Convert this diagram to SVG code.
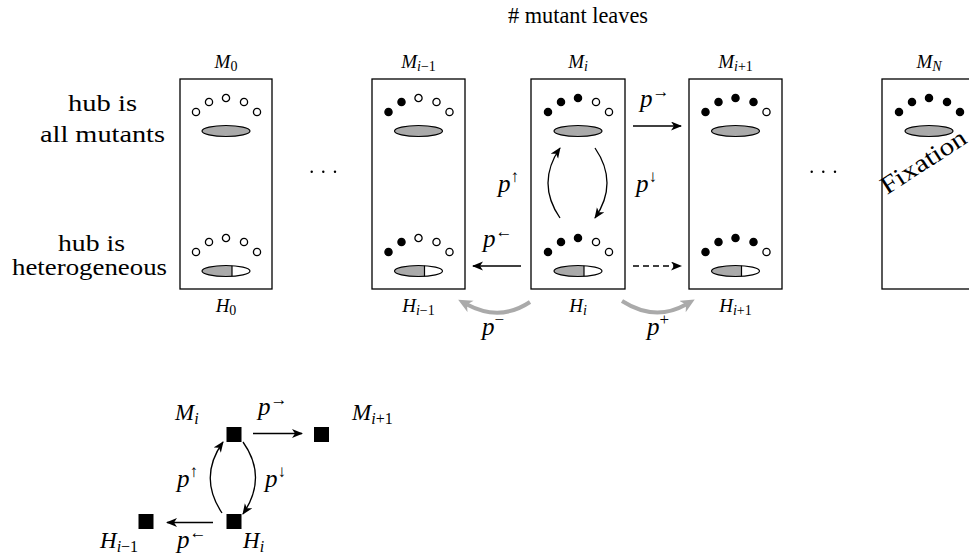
<svg xmlns="http://www.w3.org/2000/svg" xmlns:xlink="http://www.w3.org/1999/xlink" width="969" height="555" viewBox="0 0 969 555" font-family="Liberation Serif, DejaVu Serif, serif">
<style>
.box{fill:#fff;stroke:#000;stroke-width:1.3}
.o{fill:#fff;stroke:#000;stroke-width:1.3}
.f{fill:#000;stroke:#000;stroke-width:1.3}
.hub{fill:#aaa;stroke:#000;stroke-width:1.2}
.it{font-style:italic}
.lbl{font-size:19px}
.sub{font-size:14px}
.big{font-size:23px}
.p{font-size:25px}
.sup{font-size:17px;font-style:normal}
.arr{fill:none;stroke:#000;stroke-width:1.3}
.gray{fill:none;stroke:#aaa;stroke-width:4}
.sq{fill:#000}
</style>
<defs>
<marker id="ah" markerUnits="userSpaceOnUse" markerWidth="12" markerHeight="10" refX="10" refY="4.5" orient="auto">
<path d="M0,0 L11,4.5 L0,9 L3,4.5 Z" fill="#000"/>
</marker>
<marker id="gh" markerUnits="userSpaceOnUse" markerWidth="16" markerHeight="14" refX="4" refY="6.5" orient="auto">
<path d="M0,0 L14,6.5 L0,13 L4,6.5 Z" fill="#aaa"/>
</marker>
<g id="hubM"><ellipse rx="24" ry="5.5" class="hub"/></g>
<g id="hubH">
<ellipse rx="24" ry="5.5" fill="#fff"/>
<path d="M6,-5.33 A24,5.5 0 1 0 6,5.33 Z" fill="#aaa"/>
<line x1="6" y1="-5.33" x2="6" y2="5.33" stroke="#000" stroke-width="1.2"/>
<ellipse rx="24" ry="5.5" fill="none" stroke="#000" stroke-width="1.2"/>
</g>
<g id="L0"><circle cx="-30" cy="14" r="3.6" class="o"/><circle cx="-17" cy="4" r="3.6" class="o"/><circle cx="0" cy="0" r="3.6" class="o"/><circle cx="18" cy="4" r="3.6" class="o"/><circle cx="31" cy="14" r="3.6" class="o"/></g>
<g id="L2"><circle cx="-30" cy="14" r="3.6" class="f"/><circle cx="-17" cy="4" r="3.6" class="f"/><circle cx="0" cy="0" r="3.6" class="o"/><circle cx="18" cy="4" r="3.6" class="o"/><circle cx="31" cy="14" r="3.6" class="o"/></g>
<g id="L3"><circle cx="-30" cy="14" r="3.6" class="f"/><circle cx="-17" cy="4" r="3.6" class="f"/><circle cx="0" cy="0" r="3.6" class="f"/><circle cx="18" cy="4" r="3.6" class="o"/><circle cx="31" cy="14" r="3.6" class="o"/></g>
<g id="L4"><circle cx="-30" cy="14" r="3.6" class="f"/><circle cx="-17" cy="4" r="3.6" class="f"/><circle cx="0" cy="0" r="3.6" class="f"/><circle cx="18" cy="4" r="3.6" class="f"/><circle cx="31" cy="14" r="3.6" class="o"/></g>
<g id="L5"><circle cx="-30" cy="14" r="3.6" class="f"/><circle cx="-17" cy="4" r="3.6" class="f"/><circle cx="0" cy="0" r="3.6" class="f"/><circle cx="18" cy="4" r="3.6" class="f"/><circle cx="31" cy="14" r="3.6" class="f"/></g>
</defs>

<rect width="969" height="555" fill="#fff"/>

<text x="508" y="23" font-size="23" textLength="140" lengthAdjust="spacingAndGlyphs"># mutant leaves</text>

<g id="row-labels" font-size="23">
<text x="102.5" y="111" text-anchor="middle" textLength="69" lengthAdjust="spacingAndGlyphs">hub is</text>
<text x="102.5" y="142" text-anchor="middle" textLength="125" lengthAdjust="spacingAndGlyphs">all mutants</text>
<text x="91.5" y="251" text-anchor="middle" textLength="67" lengthAdjust="spacingAndGlyphs">hub is</text>
<text x="89.5" y="275" text-anchor="middle" textLength="155" lengthAdjust="spacingAndGlyphs">heterogeneous</text>
</g>

<g id="state-0">
<rect x="180" y="79" width="92" height="210" class="box"/>
<use xlink:href="#L0" x="226" y="98"/><use xlink:href="#hubM" x="226" y="131"/>
<use xlink:href="#L0" x="226" y="238"/><use xlink:href="#hubH" x="226" y="271"/>
<text class="lbl" x="226" y="68" text-anchor="middle"><tspan class="it">M</tspan><tspan class="sub" dy="3">0</tspan></text>
<text class="lbl" x="226" y="312" text-anchor="middle"><tspan class="it">H</tspan><tspan class="sub" dy="3">0</tspan></text>
</g>

<g id="dots-left" fill="#000"><circle cx="311.7" cy="171.7" r="1.2"/><circle cx="323.3" cy="171.7" r="1.2"/><circle cx="335" cy="171.7" r="1.2"/></g>

<g id="state-i-1">
<rect x="372" y="79" width="93" height="210" class="box"/>
<use xlink:href="#L2" x="418.5" y="98"/><use xlink:href="#hubM" x="418.5" y="131"/>
<use xlink:href="#L2" x="418.5" y="238"/><use xlink:href="#hubH" x="418.5" y="271"/>
<text class="lbl" x="418.5" y="68" text-anchor="middle"><tspan class="it">M</tspan><tspan class="sub" dy="3"><tspan class="it">i</tspan>−1</tspan></text>
<text class="lbl" x="418.5" y="312" text-anchor="middle"><tspan class="it">H</tspan><tspan class="sub" dy="3"><tspan class="it">i</tspan>−1</tspan></text>
</g>

<g id="state-i">
<rect x="531" y="79" width="94" height="210" class="box"/>
<use xlink:href="#L3" x="578" y="98"/><use xlink:href="#hubM" x="578" y="131"/>
<use xlink:href="#L3" x="578" y="238"/><use xlink:href="#hubH" x="578" y="271"/>
<text class="lbl" x="578" y="68" text-anchor="middle"><tspan class="it">M</tspan><tspan class="sub it" dy="3">i</tspan></text>
<text class="lbl" x="578" y="312" text-anchor="middle"><tspan class="it">H</tspan><tspan class="sub it" dy="3">i</tspan></text>
</g>

<g id="state-i+1">
<rect x="689" y="79" width="93" height="210" class="box"/>
<use xlink:href="#L4" x="735.5" y="98"/><use xlink:href="#hubM" x="735.5" y="131"/>
<use xlink:href="#L4" x="735.5" y="238"/><use xlink:href="#hubH" x="735.5" y="271"/>
<text class="lbl" x="735.5" y="68" text-anchor="middle"><tspan class="it">M</tspan><tspan class="sub" dy="3"><tspan class="it">i</tspan>+1</tspan></text>
<text class="lbl" x="735.5" y="312" text-anchor="middle"><tspan class="it">H</tspan><tspan class="sub" dy="3"><tspan class="it">i</tspan>+1</tspan></text>
</g>

<g id="dots-right" fill="#000"><circle cx="811.7" cy="171.7" r="1.2"/><circle cx="823.3" cy="171.7" r="1.2"/><circle cx="835" cy="171.7" r="1.2"/></g>

<g id="state-N">
<rect x="882" y="79" width="93" height="210" class="box"/>
<use xlink:href="#L5" x="929" y="98"/><use xlink:href="#hubM" x="929" y="131"/>
<text class="lbl" x="929" y="68" text-anchor="middle"><tspan class="it">M</tspan><tspan class="sub it" dy="3">N</tspan></text>
<text font-size="25" transform="translate(887,195) rotate(-33)" textLength="97" lengthAdjust="spacingAndGlyphs">Fixation</text>
</g>

<g id="connectors">
<path d="M633,126 L681,126" class="arr" marker-end="url(#ah)"/>
<path d="M521,266 L473,266" class="arr" marker-end="url(#ah)"/>
<path d="M633,266 L681,266" class="arr" stroke-dasharray="6,4" marker-end="url(#ah)"/>
<path d="M560,218 Q536,183 560,148" class="arr" marker-end="url(#ah)"/>
<path d="M595,148 Q619,183 595,218" class="arr" marker-end="url(#ah)"/>
<path d="M530,302 Q500,322 467,304.5" class="gray" marker-end="url(#gh)"/>
<path d="M622,301 Q655,322 686,304.5" class="gray" marker-end="url(#gh)"/>
<path d="M253,433.5 L302,433.5" class="arr" marker-end="url(#ah)"/>
<path d="M213,522.5 L167,522.5" class="arr" marker-end="url(#ah)"/>
<path d="M222,513 Q198,477 223,442" class="arr" marker-end="url(#ah)"/>
<path d="M243,442 Q268,477 243,514" class="arr" marker-end="url(#ah)"/>
</g>

<g id="edge-labels" class="p">
<text x="640" y="107"><tspan class="it">p</tspan><tspan class="sup" dy="-10">→</tspan></text>
<text x="498" y="192"><tspan class="it">p</tspan><tspan class="sup" dy="-10">↑</tspan></text>
<text x="636" y="192"><tspan class="it">p</tspan><tspan class="sup" dy="-10">↓</tspan></text>
<text x="483" y="247"><tspan class="it">p</tspan><tspan class="sup" dy="-10">←</tspan></text>
<text x="482" y="335"><tspan class="it">p</tspan><tspan class="sup" dy="-10">−</tspan></text>
<text x="647" y="335"><tspan class="it">p</tspan><tspan class="sup" dy="-10">+</tspan></text>
<text x="258" y="415"><tspan class="it">p</tspan><tspan class="sup" dy="-10">→</tspan></text>
<text x="177" y="487"><tspan class="it">p</tspan><tspan class="sup" dy="-10">↑</tspan></text>
<text x="265" y="487"><tspan class="it">p</tspan><tspan class="sup" dy="-10">↓</tspan></text>
<text x="177" y="548"><tspan class="it">p</tspan><tspan class="sup" dy="-10">←</tspan></text>
</g>

<g id="mini-Mi"><rect x="226.5" y="427" width="15" height="15" class="sq"/>
<text class="big" x="175" y="420"><tspan class="it">M</tspan><tspan class="it" font-size="16" dy="4">i</tspan></text></g>
<g id="mini-Mi+1"><rect x="314" y="427" width="15" height="15" class="sq"/>
<text class="big" x="352" y="420"><tspan class="it">M</tspan><tspan font-size="16" dy="4"><tspan class="it">i</tspan>+1</tspan></text></g>
<g id="mini-Hi"><rect x="226.5" y="514" width="15" height="15" class="sq"/>
<text class="big" x="243" y="548"><tspan class="it">H</tspan><tspan class="it" font-size="16" dy="4">i</tspan></text></g>
<g id="mini-Hi-1"><rect x="138.5" y="514" width="15" height="15" class="sq"/>
<text class="big" x="100" y="548"><tspan class="it">H</tspan><tspan font-size="16" dy="4"><tspan class="it">i</tspan>−1</tspan></text></g>
</svg>
